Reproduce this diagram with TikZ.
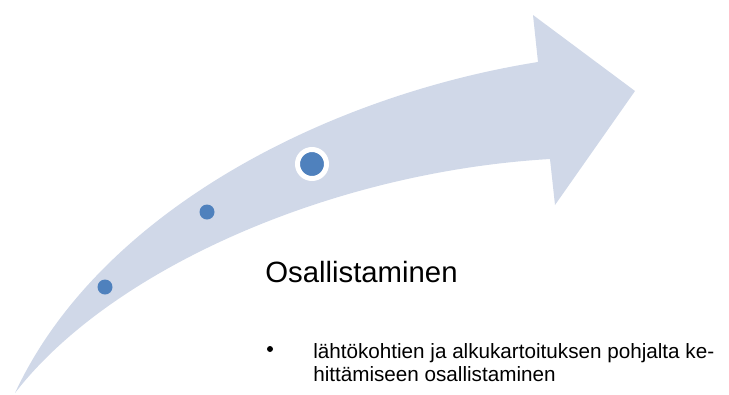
\documentclass[tikz,border=0pt]{standalone}
\usepackage{fontspec}
\setmainfont{Liberation Sans}
\usepackage{tikz}
\usetikzlibrary{positioning}
\definecolor{arrowfill}{RGB}{208,216,232}
\definecolor{dotblue}{RGB}{79,129,189}
\tikzset{
  smalldot/.style={circle, fill=dotblue, inner sep=0pt, minimum size=11.25pt},
  bigdot/.style={circle, fill=dotblue, draw=white, line width=3.75pt, inner sep=0pt, minimum size=21.75pt},
  heading/.style={inner sep=0pt, anchor=base west, font=\fontsize{22}{26}\selectfont},
  itemtext/.style={inner sep=0pt, anchor=base west, align=left, font=\fontsize{15.5}{17.25}\selectfont},
  bulletdot/.style={circle, fill=black, inner sep=0pt, minimum size=4.5pt}
}
\begin{document}
\begin{tikzpicture}[x=0.75pt, y=-0.75pt]
    \useasboundingbox (0,0) rectangle (729,394);
    \fill [arrowfill] (15,393) .. controls (100,210) and (330,95) .. (538,62)
      -- (533,15) -- (635,91) -- (555,205) -- (550,159)
      .. controls (330,172) and (110,270) .. (15,393) -- cycle;
    \node [smalldot] (dotA) at (105,287) {};
    \node [smalldot] (dotB) at (207,212) {};
    \node [bigdot] (dotC) at (312,164) {};
    \node [heading] (title) at (265,282) {Osallistaminen};
    \node [bulletdot] (bullet) at (270,349) {};
    \node [itemtext] (item) at (313,381) {lähtökohtien ja alkukartoituksen pohjalta ke-\\hittämiseen osallistaminen};
\end{tikzpicture}
\end{document}
